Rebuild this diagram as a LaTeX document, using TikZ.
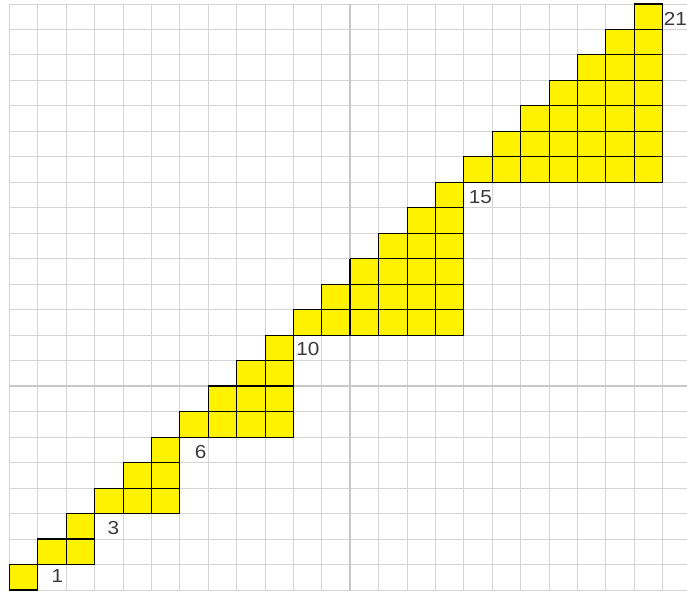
\documentclass[tikz,border=0pt]{standalone}
\usepackage{fontspec}
\newfontfamily\lblfont[FakeStretch=1.1]{Liberation Sans}
\definecolor{gridgray}{HTML}{D4D4D4}
\definecolor{axisgray}{HTML}{C8C8C8}
\definecolor{labelgray}{HTML}{3A3A3A}

\begin{document}
\begin{tikzpicture}[
x=0.71cm, y=0.637cm,
gridline/.style={draw=gridgray, line width=0.6pt},
axisline/.style={draw=axisgray, line width=1.5pt},
cell/.style={fill=yellow, draw=black, line width=0.8pt},
axisedge/.style={draw=black, line width=1.6pt},
lbl/.style={font=\lblfont\fontsize{13.4}{14}\selectfont, text=labelgray, inner sep=0pt}
]
\useasboundingbox (-0.2375cm,-0.05cm) rectangle (16.9375cm,14.75cm);

% grid
\foreach \k in {0,...,23}
  \draw[gridline] (\k,0) -- (\k,23);
\foreach \k in {0,...,23}
  \draw[gridline] (0,\k) -- (23.856,\k);

% axes
\draw[axisline] (12,0) -- (12,23);
\draw[axisline] (0,8) -- (23.856,8);

% staircases: start / size
\foreach \s/\n in {0/1, 1/2, 3/3, 6/4, 10/6, 16/7} {
  \pgfmathtruncatemacro\m{\n-1}
  \foreach \i in {0,...,\m}
    \foreach \j in {\i,...,\m}
      \draw[cell] (\s+\j,\s+\i) rectangle ++(1,1);
}

% cell edges lying on the axes
\draw[axisedge] (7,8) -- (10,8);
\draw[axisedge] (12,10) -- (12,13);

% labels
\node[lbl] (one) at (1.69,0.53) {1};
\node[lbl] (three) at (3.66,2.43) {3};
\node[lbl] (six) at (6.73,5.42) {6};
\node[lbl] (ten) at (10.51,9.44) {10};
\node[lbl] (fifteen) at (16.58,15.42) {15};
\node[lbl] (twentyone) at (23.45,22.43) {21};

\end{tikzpicture}
\end{document}
